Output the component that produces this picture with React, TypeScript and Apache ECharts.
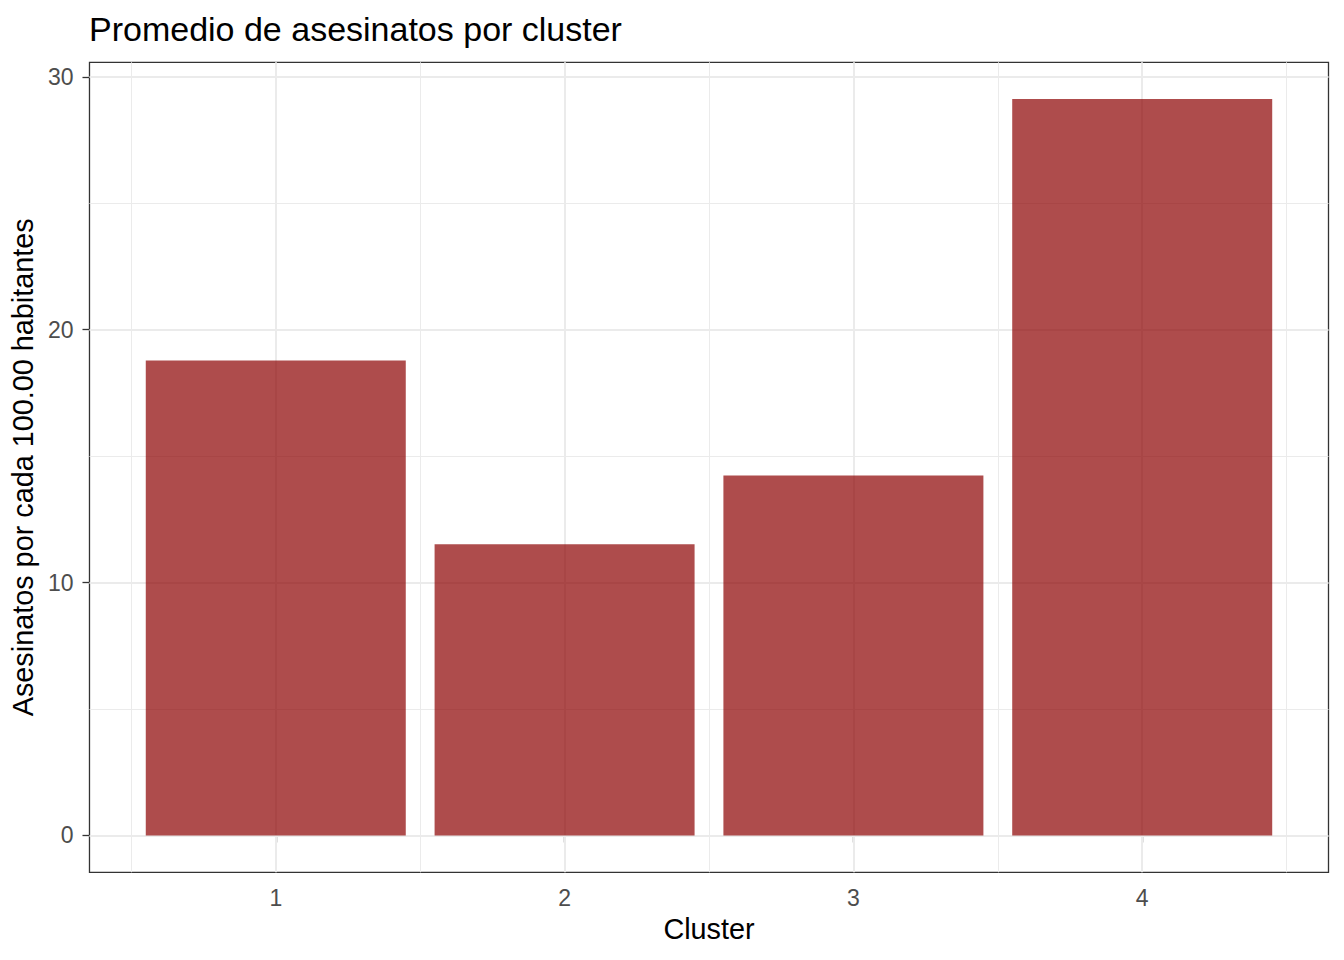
import React, { useEffect, useRef } from "react";
import * as echarts from "echarts";

const clusters = [1, 2, 3, 4];
const murderAvg = [18.78, 11.52, 14.24, 29.12];
const yTicks = [0, 10, 20, 30];
const yMinorTicks = [5, 15, 25];
const xMinorTicks = [0.5, 1.5, 2.5, 3.5, 4.5];

const FONT = "'Liberation Sans', Arial, sans-serif";

export default function App() {
  const ref = useRef<HTMLDivElement>(null);
  useEffect(() => {
    if (!ref.current) return;
    const chart = echarts.init(ref.current, undefined, { renderer: "svg" });
    const yMaxData = Math.max(...murderAvg);
    const yMin = -0.05 * yMaxData;
    const yMax = 1.05 * yMaxData;
    const xLo = clusters[0] - 0.45;
    const xHi = clusters[clusters.length - 1] + 0.45;
    const xSpan = xHi - xLo;
    const xMin = xLo - 0.05 * xSpan;
    const xMax = xHi + 0.05 * xSpan;

    const major = { color: "#EBEBEB", width: 2, type: "solid" };
    const minor = { color: "#EBEBEB", width: 1, type: "solid" };
    const gridLines = [
      ...yMinorTicks.map((v) => ({ yAxis: v, lineStyle: minor })),
      ...xMinorTicks.map((v) => ({ xAxis: v, lineStyle: minor })),
      ...yTicks.map((v) => ({ yAxis: v, lineStyle: major })),
      ...clusters.map((v) => ({ xAxis: v, lineStyle: major })),
    ];

    chart.setOption({
      animation: false,
      backgroundColor: "#FFFFFF",
      title: {
        text: "Promedio de asesinatos por cluster",
        left: 89,
        top: 12,
        padding: 0,
        textStyle: { fontSize: 34, fontWeight: "normal", color: "#000000", fontFamily: FONT },
      },
      grid: {
        left: 89.3,
        right: 15.5,
        top: 62.3,
        bottom: 87.7,
        show: true,
        backgroundColor: "transparent",
        borderColor: "#333333",
        borderWidth: 1.3,
      },
      xAxis: {
        type: "value",
        min: xMin,
        max: xMax,
        axisLine: { show: false },
        splitLine: { show: false },
        axisTick: {
          show: true,
          customValues: clusters,
          length: 7,
          lineStyle: { color: "#333333", width: 1.3 },
        },
        axisLabel: {
          customValues: clusters,
          color: "#4D4D4D",
          fontSize: 23,
          fontFamily: FONT,
          margin: 14,
          formatter: (v: number) => String(Math.round(v)),
        },
        name: "Cluster",
        nameLocation: "middle",
        nameGap: 42,
        nameTextStyle: { color: "#000000", fontSize: 28.8, fontFamily: FONT },
      },
      yAxis: {
        type: "value",
        min: yMin,
        max: yMax,
        axisLine: { show: false },
        splitLine: { show: false },
        axisTick: {
          show: true,
          customValues: yTicks,
          length: 7,
          lineStyle: { color: "#333333", width: 1.3 },
        },
        axisLabel: {
          customValues: yTicks,
          color: "#4D4D4D",
          fontSize: 23,
          fontFamily: FONT,
          margin: 16,
          formatter: (v: number) => String(Math.round(v)),
        },
        name: "Asesinatos por cada 100.00 habitantes",
        nameLocation: "middle",
        nameGap: 43,
        nameTextStyle: { color: "#000000", fontSize: 28.8, fontFamily: FONT },
      },
      series: [
        {
          type: "line",
          data: [],
          z: 1,
          silent: true,
          markLine: {
            z: 1,
            silent: true,
            symbol: ["none", "none"],
            label: { show: false },
            emphasis: { disabled: true },
            data: gridLines,
          },
        },
        {
          type: "bar",
          z: 3,
          barWidth: 260,
          itemStyle: { color: "rgba(139,0,0,0.7)" },
          data: clusters.map((c, i) => [c, murderAvg[i]]),
        },
      ],
    });
    return () => chart.dispose();
  }, []);
  return (
    <div
      ref={ref}
      style={{ position: "fixed", left: 0, top: 0, width: 1344, height: 960 }}
    />
  );
}
